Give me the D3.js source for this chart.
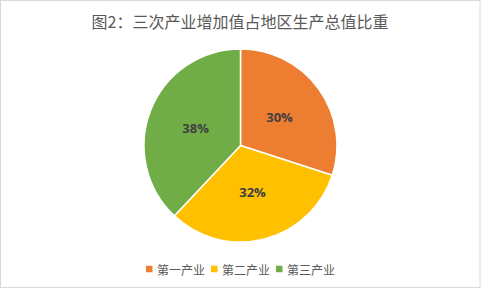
<!DOCTYPE html>
<html>
<head>
<meta charset="utf-8">
<script src="https://cdn.jsdelivr.net/npm/d3@7"></script>
<style>
  html, body { margin: 0; padding: 0; background: #fff; }
  svg { display: block; }
</style>
</head>
<body>
<svg id="chart" width="482" height="290"></svg>
<script>
// Share of regional GDP by industry sector
const title = "图2：三次产业增加值占地区生产总值比重";
const categories = ["第一产业", "第二产业", "第三产业"];
const values = [30, 32, 38];
const colors = ["#ED7D31", "#FFC000", "#70AD47"];

const W = 482, H = 290;
const cx = 240.5, cy = 145.5, radius = 96.5;
const cjkFont = "'Noto Sans CJK SC', 'Noto Sans', sans-serif";

const svg = d3.select("#chart");

// Chart frame
svg.append("rect")
  .attr("x", 0.5).attr("y", 0.5)
  .attr("width", 479.5).attr("height", 287)
  .attr("fill", "#fff")
  .attr("stroke", "#D9D9D9")
  .attr("stroke-width", 1);

// Title
svg.append("text")
  .attr("x", 240).attr("y", 20.5)
  .attr("text-anchor", "middle")
  .attr("dominant-baseline", "central")
  .attr("font-family", cjkFont)
  .attr("font-size", 16)
  .attr("fill", "#595959")
  .text(title);

// Pie
const color = d3.scaleOrdinal().domain(categories).range(colors);
const pie = d3.pie().sort(null).value(d => d.value);
const data = categories.map((c, i) => ({ name: c, value: values[i] }));
const arcs = pie(data);
const arc = d3.arc().innerRadius(0).outerRadius(radius);
const total = d3.sum(values);

const g = svg.append("g").attr("transform", `translate(${cx},${cy})`);

g.selectAll("path.slice")
  .data(arcs)
  .join("path")
  .attr("class", "slice")
  .attr("d", arc)
  .attr("fill", d => color(d.data.name))
  .attr("stroke", "#fff")
  .attr("stroke-width", 1.5)
  .attr("stroke-linejoin", "round");

g.selectAll("text.label")
  .data(arcs)
  .join("text")
  .attr("class", "label")
  .attr("transform", d => `translate(${arc.centroid(d)})`)
  .attr("text-anchor", "middle")
  .attr("dominant-baseline", "central")
  .attr("font-family", "'Open Sans', 'Liberation Sans', sans-serif")
  .attr("font-weight", "bold")
  .attr("font-size", 13)
  .attr("fill", "#404040")
  .text(d => d3.format(".0%")(d.data.value / total));

// Legend
const legend = svg.append("g");
const sw = 6.5, textGap = 4.5, itemGap = 6;
const ly = 269;
const items = legend.selectAll("g.item")
  .data(data)
  .join("g")
  .attr("class", "item");

items.append("rect")
  .attr("width", sw).attr("height", sw)
  .attr("y", ly - sw / 2)
  .attr("fill", d => color(d.name));

items.append("text")
  .attr("y", ly)
  .attr("dominant-baseline", "central")
  .attr("font-family", cjkFont)
  .attr("font-size", 12)
  .attr("fill", "#595959")
  .text(d => d.name);

let widths = [];
items.each(function () {
  widths.push(d3.select(this).select("text").node().getComputedTextLength());
});
const totalW = d3.sum(widths, w => sw + textGap + w) + itemGap * (widths.length - 1);
let x = cx - totalW / 2;
items.each(function (d, i) {
  const item = d3.select(this);
  item.select("rect").attr("x", x);
  item.select("text").attr("x", x + sw + textGap);
  x += sw + textGap + widths[i] + itemGap;
});
</script>
</body>
</html>
